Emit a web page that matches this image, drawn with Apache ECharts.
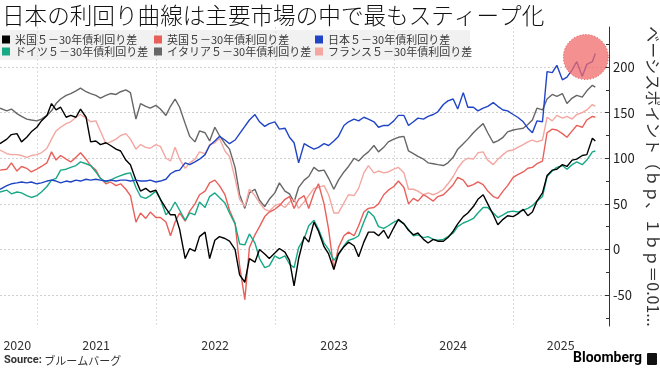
<!DOCTYPE html>
<html>
<head>
<meta charset="utf-8">
<script src="https://cdn.jsdelivr.net/npm/echarts@6/dist/echarts.min.js"></script>
<style>
html,body{margin:0;padding:0;background:#fff;}
#chart{width:660px;height:371px;}
</style>
</head>
<body>
<div id="chart"></div>
<script>
// ---- data ----
const dates = [
'2020-09-10','2020-10-01','2020-10-15','2020-11-01','2020-11-15','2020-12-01','2020-12-15',
'2021-01-01','2021-01-15','2021-02-01','2021-02-15','2021-03-01','2021-03-15','2021-04-01','2021-04-15','2021-05-01','2021-05-15','2021-06-01','2021-06-15',
'2021-07-01','2021-07-15','2021-08-01','2021-08-15','2021-09-01','2021-09-15','2021-10-01','2021-10-15','2021-11-01','2021-11-15','2021-12-01','2021-12-15',
'2022-01-01','2022-01-15','2022-02-01','2022-02-15','2022-03-01','2022-03-15','2022-04-01','2022-04-15','2022-05-01','2022-05-15','2022-06-01','2022-06-15',
'2022-07-01','2022-07-15','2022-08-01','2022-08-15','2022-09-01','2022-09-15','2022-10-01','2022-10-15','2022-11-01','2022-11-15','2022-12-01','2022-12-15',
'2023-01-01','2023-01-15','2023-02-01','2023-02-15','2023-03-01','2023-03-15','2023-04-01','2023-04-15','2023-05-01','2023-05-15','2023-06-01','2023-06-15',
'2023-07-01','2023-07-15','2023-08-01','2023-08-15','2023-09-01','2023-09-15','2023-10-01','2023-10-15','2023-11-01','2023-11-15','2023-12-01','2023-12-15',
'2024-01-01','2024-01-15','2024-02-01','2024-02-15','2024-03-01','2024-03-15','2024-04-01','2024-04-15','2024-05-01','2024-05-15','2024-06-01','2024-06-15',
'2024-07-01','2024-07-15','2024-08-01','2024-08-15','2024-09-01','2024-09-15','2024-10-01','2024-10-15','2024-11-01','2024-11-15','2024-12-01','2024-12-15',
'2025-01-01','2025-01-15','2025-02-01','2025-02-15','2025-03-01','2025-03-15','2025-04-01','2025-04-15','2025-05-01','2025-05-15','2025-06-01','2025-06-15',
'2025-07-01','2025-07-15','2025-08-01','2025-08-15','2025-09-01','2025-09-10'
];

const usSpread = [
116,121,126,127,118,123,129,134,141,147,160,153,156,145,147,145,154,145,118,119,
115,117,114,110,108,98,93,76,64,67,63,65,55,45,38,38,22,-10,1,-2,14,
19,-10,10,14,12,9,0,-28,-36,-10,-14,0,-5,-10,-4,1,-3,-12,-40,-10,
14,8,30,20,3,-5,-22,-5,3,8,4,-8,8,19,19,15,21,12,24,33,
28,21,16,18,11,7,11,9,9,13,20,28,36,40,47,55,60,50,38,27,
33,37,36,39,44,37,41,53,62,81,87,88,93,91,98,99,103,104,122,119
];
const ukSpread = [
87,88,95,86,91,89,85,88,91,95,107,98,103,99,96,101,106,99,92,87,
78,72,74,70,72,66,59,30,40,34,41,35,35,30,15,30,40,31,42,50,60,
64,73,76,70,60,43,29,-18,-55,2,16,25,36,41,44,48,55,58,45,55,
59,45,62,72,50,22,-22,2,15,19,15,26,41,45,46,50,60,65,69,75,
68,50,56,53,60,57,53,58,60,65,71,79,76,69,71,74,71,64,58,56,
64,70,79,82,85,89,90,94,97,128,132,131,127,123,130,136,134,142,146,145
];
const jpSpread = [
66,70,72,73,74,73,74,72,73,75,76,75,73,75,74,76,75,77,76,77,
76,75,76,75,76,76,75,76,75,75,76,74,75,77,83,86,87,95,93,96,99,
104,114,119,124,120,116,120,127,135,142,148,140,135,138,140,132,133,123,117,95,
116,113,110,112,116,114,119,124,136,140,143,141,145,143,140,134,136,136,141,147,
147,136,140,144,143,146,148,151,159,163,165,154,172,156,156,152,155,157,161,157,
153,152,148,145,140,133,128,141,140,195,194,202,186,189,197,206,190,203,206,215
];
const deSpread = [
63,65,61,63,62,59,57,59,63,69,76,78,87,88,90,92,96,94,92,85,
78,74,76,79,81,83,84,68,58,56,59,64,55,38,43,52,43,32,40,38,52,
46,58,62,57,51,40,28,6,5,17,7,-10,-20,-18,-7,-10,-7,-16,-20,2,
12,26,32,22,7,0,-12,-6,4,10,12,15,30,42,36,25,23,26,30,32,
28,22,15,16,13,14,11,10,11,14,18,25,29,31,34,40,46,46,40,35,
38,41,42,41,43,45,48,53,58,80,86,90,92,88,93,96,93,98,107,108
];
const itSpread = [
155,152,154,149,146,143,142,141,143,147,152,160,165,169,171,174,177,173,171,169,
166,169,171,170,173,175,172,143,160,157,155,158,154,147,157,165,156,138,124,118,130,
128,119,134,125,116,110,90,60,45,62,66,54,47,55,62,73,64,61,52,68,
76,80,90,86,87,78,66,76,85,91,100,97,103,107,114,107,112,118,121,123,
124,108,105,102,99,95,94,93,92,95,101,110,116,121,128,133,138,128,117,119,
123,129,131,132,133,137,142,155,153,165,170,168,171,160,166,169,167,174,180,178
];
const frSpread = [
109,105,104,104,103,101,103,104,106,111,121,130,134,138,140,145,148,144,140,141,
130,116,118,121,125,127,121,110,115,112,111,115,113,100,97,112,99,89,95,99,107,
105,115,117,122,108,102,78,55,47,66,59,51,44,42,48,50,46,52,55,45,
52,59,67,68,70,60,40,40,51,60,59,67,84,92,84,86,84,85,88,90,
84,66,66,64,60,62,60,62,66,72,80,89,97,100,99,106,107,98,93,99,
104,108,109,112,115,118,120,118,120,145,141,147,144,146,143,148,150,153,159,157
];

const seriesNames = ['米国５－30年債利回り差','英国５－30年債利回り差','日本５－30年債利回り差',
                     'ドイツ５－30年債利回り差','イタリア５－30年債利回り差','フランス５－30年債利回り差'];
const yTicks = [-50, 0, 50, 100, 150, 200];
const yMinorTicks = [-75, -25, 25, 75, 125, 175, 225];
const xRange = ['2020-09-10', '2025-10-22'];
const yearLines = ['2021-01-01','2022-01-01','2023-01-01','2024-01-01','2025-01-01'];
const yearLabelAt = ['2020-11-02','2021-07-02','2022-07-02','2023-07-02','2024-07-01','2025-05-27'];
const highlight = ['2025-08-12', 211];

// ---- chart ----
const colors = {
  us: '#000000', uk: '#e8605a', jp: '#1f45c6', de: '#17a886', it: '#666666', fr: '#f4a7a1'
};
const T = s => Date.parse(s + 'T00:00:00Z');
const pair = arr => dates.map((d, i) => [T(d), arr[i]]);
const FONT = "'Noto Sans CJK JP','Noto Sans',sans-serif";

function mkSeries(name, arr, color, extra) {
  return Object.assign({
    name: name, type: 'line', data: pair(arr), showSymbol: false, symbol: 'none',
    lineStyle: { width: 1.4, color: color }, itemStyle: { color: color },
    emphasis: { disabled: true }
  }, extra || {});
}

function mkLegend(name, left, top) {
  return {
    data: [{ name: name, icon: 'rect' }], left: left, top: top, padding: 0,
    itemWidth: 8, itemHeight: 8, itemGap: 0, selectedMode: false,
    textStyle: { fontSize: 11, color: '#3a3a3a', fontFamily: FONT }
  };
}

const chart = echarts.init(document.getElementById('chart'), null, { renderer: 'canvas' });
chart.setOption({
  animation: false,
  textStyle: { fontFamily: FONT },
  title: {
    text: '日本の利回り曲線は主要市場の中で最もスティープ化',
    left: 0, top: 2, padding: [2, 2],
    textStyle: { fontSize: 22.6, fontWeight: 300, color: '#111', fontFamily: FONT }
  },
  legend: [
    mkLegend(seriesNames[0], 2, 34),
    mkLegend(seriesNames[1], 154, 34),
    mkLegend(seriesNames[2], 315, 34),
    mkLegend(seriesNames[3], 2, 46),
    mkLegend(seriesNames[4], 154, 46),
    mkLegend(seriesNames[5], 315, 46)
  ],
  graphic: [
    { type: 'rect', left: 0, top: 30, z: -1, shape: { width: 470, height: 30 },
      style: { fill: 'rgba(232,232,232,0.6)' } },
    { type: 'text', left: 4, top: 355,
      style: { text: '{b|Source:} ブルームバーグ', fill: '#333', font: '11px ' + FONT,
        rich: { b: { fontWeight: 'bold', fontSize: 11, fontFamily: 'Roboto, sans-serif', fill: '#333' } } } },
    { type: 'text', right: 18, top: 351,
      style: { text: 'Bloomberg', fill: '#000', font: 'bold 14px Roboto, sans-serif' } },
    { type: 'rect', right: 3, top: 353, shape: { width: 10, height: 12, r: 1 }, style: { fill: '#111' } }
  ],
  grid: { left: 0, right: 51, top: 27, bottom: 45, containLabel: false, outerBoundsMode: 'none' },
  xAxis: {
    type: 'value', min: T(xRange[0]), max: T(xRange[1]),
    axisLine: { show: false },
    axisTick: { show: false, customValues: yearLines.map(T) },
    axisLabel: {
      customValues: yearLabelAt.map(T), fontSize: 12.5, color: '#333', margin: 13,
      formatter: v => String(new Date(v).getUTCFullYear())
    },
    splitLine: { show: true, lineStyle: { color: '#dcdcdc', type: [2, 2], width: 1 } }
  },
  yAxis: [{
    type: 'value', position: 'right', min: -84, max: 244,
    axisLine: { show: true, lineStyle: { color: '#333', width: 1 } },
    axisTick: { show: true, inside: true, length: 4, customValues: yTicks, lineStyle: { color: '#333' } },
    axisLabel: { customValues: yTicks, fontSize: 13, color: '#222', margin: 4 },
    splitLine: { show: true, lineStyle: { color: '#d0d0d0', type: [2, 2], width: 1 } },
    name: 'ベーシスポイント（ｂｐ、１ｂｐ＝0.01...',
    nameLocation: 'middle', nameRotate: -90, nameGap: 19,
    nameTextStyle: { fontSize: 16, color: '#333', fontFamily: FONT }
  }, {
    type: 'value', position: 'right', min: -84, max: 244,
    axisLine: { show: false },
    axisTick: { show: true, inside: true, length: 3, customValues: yMinorTicks, lineStyle: { color: '#333' } },
    axisLabel: { show: false },
    splitLine: { show: false }
  }],
  series: [
    mkSeries(seriesNames[4], itSpread, colors.it),
    mkSeries(seriesNames[5], frSpread, colors.fr),
    mkSeries(seriesNames[1], ukSpread, colors.uk),
    mkSeries(seriesNames[3], deSpread, colors.de),
    mkSeries(seriesNames[0], usSpread, colors.us),
    mkSeries(seriesNames[2], jpSpread, colors.jp, {
      markPoint: {
        symbol: 'circle', symbolSize: 45, silent: true,
        label: { show: false },
        itemStyle: { color: 'rgba(242,105,105,0.74)', borderColor: '#d94a4a', borderWidth: 1, borderType: [1, 2] },
        data: [{ coord: [T(highlight[0]), highlight[1]] }]
      }
    })
  ]
});
</script>
</body>
</html>
